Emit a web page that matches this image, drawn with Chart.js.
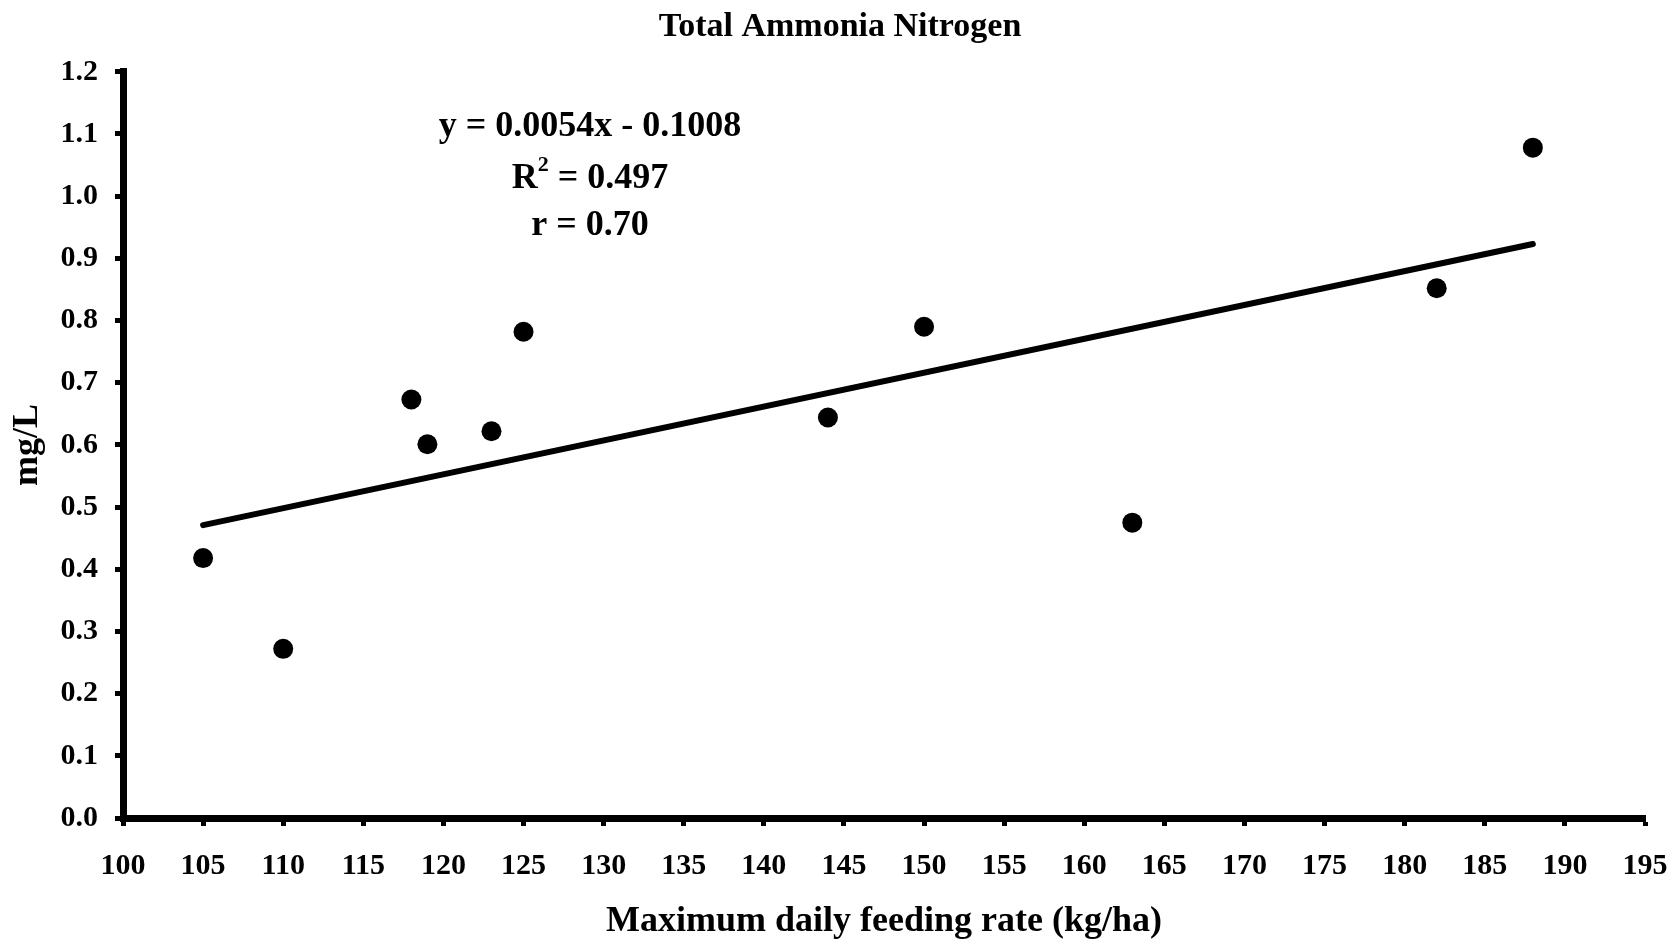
<!DOCTYPE html>
<html>
<head>
<meta charset="utf-8">
<script src="https://cdn.jsdelivr.net/npm/chart.js@4.4.1/dist/chart.umd.min.js"></script>
<style>
  html, body { margin: 0; padding: 0; background: #fff; }
  canvas { display: block; }
</style>
</head>
<body>
<canvas id="c" width="1680" height="943"></canvas>
<script>
// ---- Data ----
const feedingRate = [105, 110, 118, 119, 123, 125, 144, 150, 163, 182, 188];
const tan = [0.418, 0.272, 0.673, 0.601, 0.622, 0.782, 0.644, 0.790, 0.475, 0.852, 1.078];
const trendX = [105, 188];
const trendY = [0.471, 0.923];
const chartTitle = 'Total Ammonia Nitrogen';
const xTitle = 'Maximum daily feeding rate (kg/ha)';
const yTitle = 'mg/L';
const eqLine = 'y = 0.0054x - 0.1008';
const r2Value = '0.497';
const rLine = 'r = 0.70';

const FONT = '"Liberation Serif", "Times New Roman", serif';

const points = feedingRate.map((x, i) => ({ x: x, y: tan[i] }));
const trend = trendX.map((x, i) => ({ x: x, y: trendY[i] }));

const annotationPlugin = {
  id: 'eqText',
  afterDraw(chart) {
    const ctx = chart.ctx;
    ctx.save();
    ctx.fillStyle = '#000';
    ctx.textBaseline = 'alphabetic';
    const cx = 590;
    ctx.font = 'bold 36px ' + FONT;
    ctx.textAlign = 'center';
    ctx.fillText(eqLine, cx, 136);
    // R^2 line
    ctx.textAlign = 'left';
    const bigF = 'bold 36px ' + FONT;
    const supF = 'bold 22px ' + FONT;
    ctx.font = bigF;
    const wR = ctx.measureText('R').width;
    const rest = ' = ' + r2Value;
    const wRest = ctx.measureText(rest).width;
    ctx.font = supF;
    const w2 = ctx.measureText('2').width;
    const total = wR + w2 + wRest;
    let x0 = cx - total / 2;
    ctx.font = bigF;
    ctx.fillText('R', x0, 188);
    ctx.font = supF;
    ctx.fillText('2', x0 + wR, 171);
    ctx.font = bigF;
    ctx.fillText(rest, x0 + wR + w2, 188);
    ctx.textAlign = 'center';
    ctx.fillText(rLine, cx, 235);
    ctx.restore();
  }
};

new Chart(document.getElementById('c'), {
  type: 'scatter',
  data: {
    datasets: [
      {
        label: 'TAN',
        data: points,
        pointRadius: 10,
        pointHoverRadius: 10,
        pointBackgroundColor: '#000',
        pointBorderColor: '#000',
        pointBorderWidth: 0,
        showLine: false
      },
      {
        label: 'Trend',
        data: trend,
        showLine: true,
        pointRadius: 0,
        borderColor: '#000',
        borderWidth: 6,
        borderCapStyle: 'round',
        fill: false
      }
    ]
  },
  options: {
    responsive: false,
    devicePixelRatio: 1,
    animation: false,
    layout: { padding: { left: 0, right: 0, top: 0, bottom: 0 } },
    plugins: {
      legend: { display: false },
      tooltip: { enabled: false },
      title: {
        display: true,
        text: chartTitle,
        color: '#000',
        font: { family: FONT, size: 34, weight: 'bold' },
        padding: { top: 7, bottom: 24 }
      }
    },
    scales: {
      x: {
        type: 'linear',
        min: 100,
        max: 195,
        afterFit(s) { s.height = 125; s.paddingLeft = 0; s.paddingRight = 0; },
        ticks: {
          stepSize: 5,
          autoSkip: false,
          maxRotation: 0,
          color: '#000',
          padding: 22,
          font: { family: FONT, size: 30, weight: 'bold' }
        },
        grid: {
          drawOnChartArea: false,
          drawTicks: true,
          tickLength: 8,
          tickWidth: 5,
          tickColor: '#000'
        },
        border: { display: true, width: 7, color: '#000' },
        title: {
          display: true,
          text: xTitle,
          color: '#000',
          font: { family: FONT, size: 36, weight: 'bold' },
          padding: { top: 0, bottom: 0 }
        }
      },
      y: {
        type: 'linear',
        min: 0,
        max: 1.2,
        afterFit(s) { s.width = 123; },
        ticks: {
          stepSize: 0.1,
          color: '#000',
          padding: 17,
          font: { family: FONT, size: 30, weight: 'bold' },
          callback: v => Number(v).toFixed(1)
        },
        grid: {
          drawOnChartArea: false,
          drawTicks: true,
          tickLength: 8,
          tickWidth: 5,
          tickColor: '#000'
        },
        border: { display: true, width: 7, color: '#000' },
        title: {
          display: true,
          text: yTitle,
          color: '#000',
          font: { family: FONT, size: 36, weight: 'bold' },
          padding: { top: 6, bottom: 0 }
        }
      },
      yRightSpace: {
        type: 'linear',
        position: 'right',
        min: 0,
        max: 1.2,
        display: true,
        afterFit(s) { s.width = 35; },
        ticks: { display: false },
        grid: { display: false, drawTicks: false },
        border: { display: false },
        title: { display: false }
      }
    }
  },
  plugins: [annotationPlugin]
});
</script>
</body>
</html>
